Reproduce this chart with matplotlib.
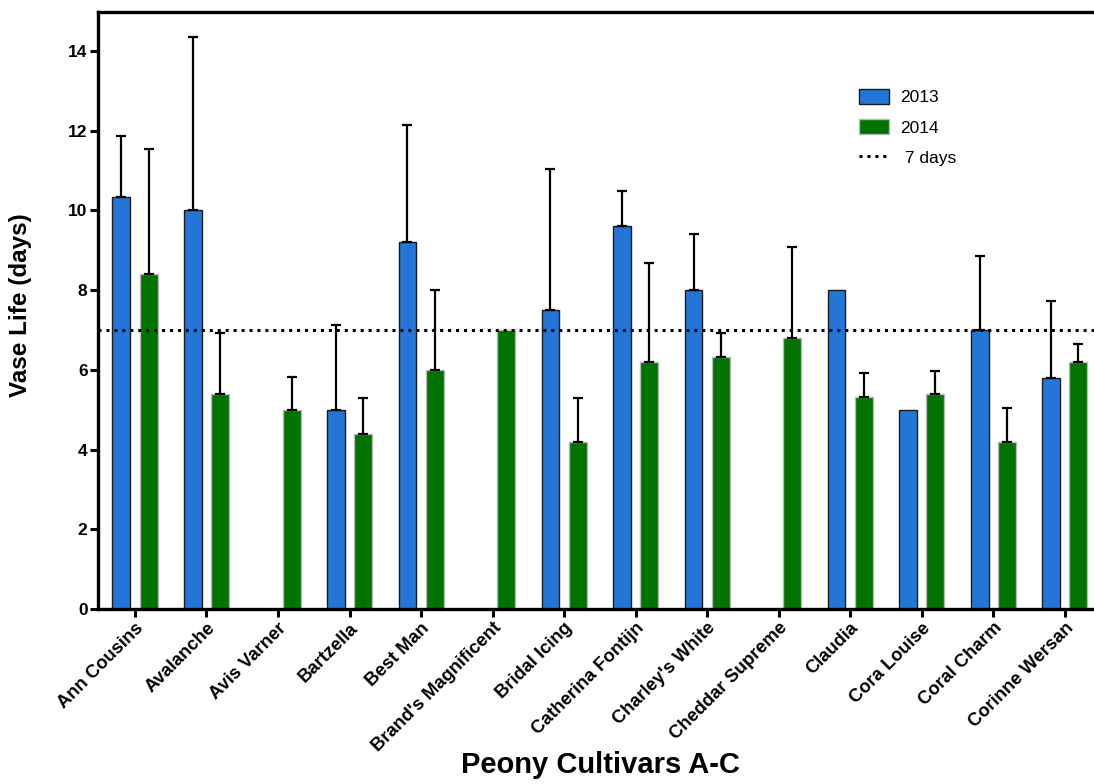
import matplotlib
matplotlib.use('Agg')
import matplotlib.pyplot as plt
from matplotlib.patches import Patch
from matplotlib.lines import Line2D
import numpy as np

plt.rcParams['font.family'] = ['Liberation Sans', 'DejaVu Sans']

nan = np.nan

cultivars = ['Ann Cousins', 'Avalanche', 'Avis Varner', 'Bartzella', 'Best Man',
             "Brand's Magnificent", 'Bridal Icing', 'Catherina Fontijn',
             "Charley's White", 'Cheddar Supreme', 'Claudia', 'Cora Louise',
             'Coral Charm', 'Corinne Wersan']

# mean vase life (days) and upper error (SD) per year; nan = no data
life_2013 = [10.33, 10.0, nan, 5.0, 9.2, nan, 7.5, 9.6, 8.0, nan, 8.0, 5.0, 7.0, 5.8]
err_2013 = [1.54, 4.36, nan, 2.13, 2.94, nan, 3.53, 0.89, 1.41, nan, nan, nan, 1.87, 1.92]
life_2014 = [8.4, 5.4, 5.0, 4.4, 6.0, 7.0, 4.2, 6.2, 6.33, 6.8, 5.33, 5.4, 4.2, 6.2]
err_2014 = [3.14, 1.52, 0.81, 0.89, 2.0, nan, 1.09, 2.49, 0.59, 2.28, 0.59, 0.56, 0.84, 0.46]

threshold = 7

blue = '#2475d8'
green = '#007200'

fig = plt.figure(figsize=(10.94, 7.84), dpi=100)
ax = fig.add_axes([98 / 1094, 1 - 609 / 784, 1 - 98 / 1094, (609 - 12) / 784])

x = np.arange(len(cultivars))
w = 0.25
off = 0.19

ax.bar(x - off, life_2013, w, color=blue, edgecolor='#1a1a1a', linewidth=1, zorder=2)
ax.bar(x + off, life_2014, w, color=green, edgecolor='#b8b8b8', linewidth=1, zorder=2)

for xs, m, e in [(x - off, life_2013, err_2013), (x + off, life_2014, err_2014)]:
    e = np.array(e)
    lower = np.where(np.isnan(e), nan, 0.0)
    ax.errorbar(xs, m, yerr=[lower, e], fmt='none', ecolor='black',
                elinewidth=1.6, capsize=3.6, capthick=1.6, zorder=3)

ax.axhline(threshold, color='black', linestyle=(0, (1, 1.6)), linewidth=2.2, zorder=4)

ax.set_xlim(-0.517, 13.41)
ax.set_ylim(0, 14.98)
ax.set_yticks(np.arange(0, 15, 2))
ax.set_xticks(x)
ax.set_xticklabels(cultivars, rotation=45, ha='right', rotation_mode='anchor',
                   fontsize=13.2, fontweight='bold')
for lab in ax.get_yticklabels():
    lab.set_fontweight('bold')
    lab.set_fontsize(12.5)

for side in ['left', 'bottom', 'top']:
    ax.spines[side].set_linewidth(2.4)
ax.spines['right'].set_visible(False)
ax.tick_params(axis='both', width=2.2, length=5.5, direction='out', pad=2)

ax.set_ylabel('Vase Life (days)', fontsize=17.5, fontweight='bold')
ax.yaxis.set_label_coords(-0.066, 0.509)
ax.set_xlabel('Peony Cultivars A-C', fontsize=21, fontweight='bold')
ax.xaxis.set_label_coords(0.504, -0.238)

handles = [Patch(facecolor=blue, edgecolor='#1a1a1a', linewidth=1),
           Patch(facecolor=green, edgecolor='#b8b8b8', linewidth=1),
           Line2D([], [], color='black', linestyle=(0, (1, 1.6)), linewidth=2.2)]
ax.legend(handles, ['2013', '2014', ' 7 days'], loc='upper left',
          bbox_to_anchor=(850 / 1094, 1 - 80 / 784), bbox_transform=fig.transFigure,
          frameon=False, fontsize=12.5, handlelength=1.75, handleheight=1.0,
          handletextpad=0.65, labelspacing=0.78, borderpad=0)

fig.savefig('out.png', dpi=100)
